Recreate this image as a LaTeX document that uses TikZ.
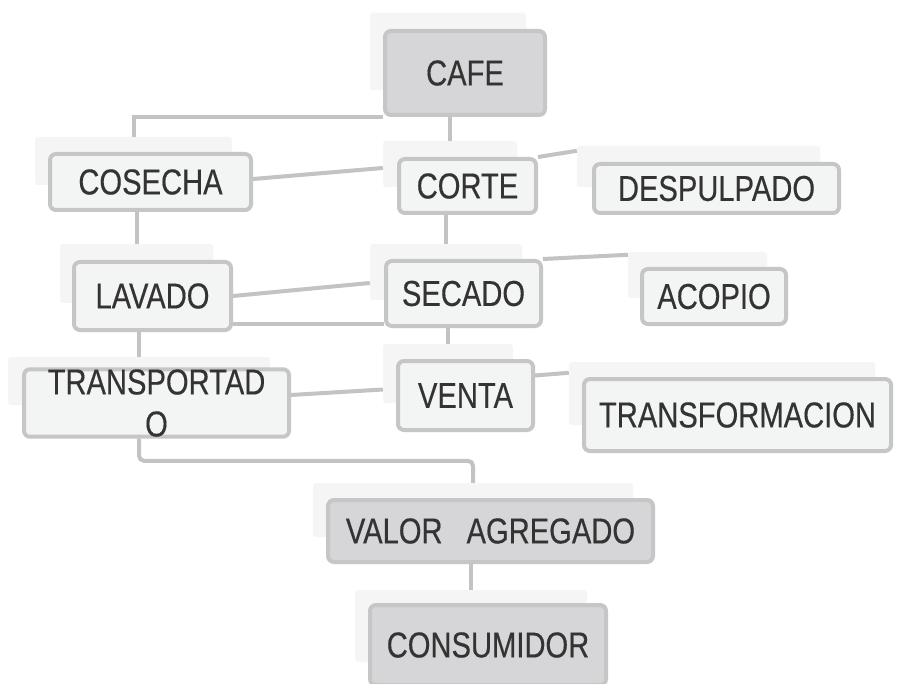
\documentclass[tikz,border=0pt]{standalone}
\usepackage{fontspec}
\setmainfont{Liberation Sans}[FakeStretch=0.81,FakeBold=0.35]
\definecolor{linec}{HTML}{C3C3C3}
\definecolor{borderc}{HTML}{C6C6C6}
\definecolor{darkfill}{HTML}{D6D6D8}
\definecolor{lightfill}{HTML}{F3F4F4}
\definecolor{ghostc}{HTML}{F5F5F5}
\definecolor{textc}{HTML}{333333}
\pgfdeclarelayer{ghostlayer}
\pgfdeclarelayer{edgelayer}
\pgfsetlayers{ghostlayer,edgelayer,main}
\begin{document}
\begin{tikzpicture}[x=1pt,y=-1pt,
  ghost/.style={fill=ghostc, draw=none, rounded corners=3pt, inner sep=0pt},
  box/.style={draw=borderc, line width=4pt, fill=lightfill, rounded corners=6pt,
    inner sep=0pt, text=textc, font=\fontsize{36}{42}\selectfont, align=center},
  darkbox/.style={box, fill=darkfill},
  conn/.style={draw=linec, line width=4pt}]
\useasboundingbox (0,0) rectangle (904,684);
% boxes
\node[darkbox, minimum width=160pt, minimum height=84pt] (cafe) at (465,73) {CAFE};
\node[box, minimum width=201pt, minimum height=56pt] (cosecha) at (150.5,182) {COSECHA};
\node[box, minimum width=137pt, minimum height=54pt] (corte) at (467.5,186) {CORTE};
\node[box, minimum width=245pt, minimum height=49pt] (despulpado) at (716.5,188.5) {DESPULPADO};
\node[box, minimum width=157pt, minimum height=68pt] (lavado) at (152.5,296) {LAVADO};
\node[box, minimum width=155pt, minimum height=65pt] (secado) at (463.5,293.5) {SECADO};
\node[box, minimum width=144pt, minimum height=55pt] (acopio) at (714,296.5) {ACOPIO};
\node[box, minimum width=265pt, minimum height=56pt] (transportado) at (156.5,403) {TRANSPORTAD\\O};
\node[box, minimum width=135pt, minimum height=69pt] (venta) at (465.5,395.5) {VENTA};
\node[box, minimum width=307pt, minimum height=72pt] (transformacion) at (737.5,415) {TRANSFORMACION};
\node[darkbox, minimum width=325pt, minimum height=62pt] (valor) at (490.5,531) {VALOR\hspace{24pt}AGREGADO};
\node[darkbox, minimum width=236pt, minimum height=80pt] (consumidor) at (488,645) {CONSUMIDOR};
% ghost rectangles behind
\begin{pgfonlayer}{ghostlayer}
\fill[white] (0,0) rectangle (904,684);
\node[ghost, minimum width=156pt, minimum height=77pt] (cafeG) at (448,51.5) {};
\node[ghost, minimum width=197pt, minimum height=48pt] (cosechaG) at (133.5,161) {};
\node[ghost, minimum width=134pt, minimum height=46pt] (corteG) at (450,164) {};
\node[ghost, minimum width=243pt, minimum height=41pt] (despulpadoG) at (698.5,166.5) {};
\node[ghost, minimum width=153pt, minimum height=59pt] (lavadoG) at (136.5,273.5) {};
\node[ghost, minimum width=152pt, minimum height=56pt] (secadoG) at (446,272) {};
\node[ghost, minimum width=139pt, minimum height=46pt] (acopioG) at (697.5,275) {};
\node[ghost, minimum width=262pt, minimum height=48pt] (transportadoG) at (139,381) {};
\node[ghost, minimum width=130pt, minimum height=59pt] (ventaG) at (448,373.5) {};
\node[ghost, minimum width=306pt, minimum height=63pt] (transformacionG) at (722,393.5) {};
\node[ghost, minimum width=320pt, minimum height=54pt] (valorG) at (473,510) {};
\node[ghost, minimum width=232pt, minimum height=72pt] (consumidorG) at (471,626) {};
\end{pgfonlayer}
% connectors
\begin{pgfonlayer}{edgelayer}
\draw[conn] (cafe.south west) -| (cosechaG.north);
\draw[conn] (cafe.south -| corteG.north) -- (corteG.north);
\draw[conn] ([yshift=3pt]cosecha.east) -- ([yshift=-4pt]corteG.west);
\draw[conn] (corte.north east) -- ([yshift=-5pt]despulpadoG.north west);
\draw[conn] (corte.south -| secadoG.north) -- (secadoG.north);
\draw[conn] (cosecha.south -| lavadoG.north) -- (lavadoG.north);
\draw[conn] (lavado.east) -- ([yshift=-11pt]secadoG.west);
\path ([yshift=8pt]lavado.south east) coordinate (lb);
\draw[conn] (lb) -- (lb -| secado.west);
\draw[conn] (lavado.south -| transportadoG.north) -- (transportadoG.north);
\draw[conn] (secado.north east) -- ([yshift=-3pt]acopioG.north west);
\draw[conn] (secado.south -| ventaG.north) -- (ventaG.north);
\draw[conn] ([yshift=8pt]transportado.east) -- ([yshift=-16pt]ventaG.west);
\draw[conn] ([yshift=20pt]venta.east) -- ([yshift=-11pt]transformacionG.north west);
\draw[conn, rounded corners=5pt] (transportado.south -| transportadoG.north) |- ([yshift=22pt]valorG.north) -- (valorG.north);
\draw[conn] (valor.south -| consumidorG.north) -- (consumidorG.north);
\end{pgfonlayer}
\end{tikzpicture}
\end{document}
